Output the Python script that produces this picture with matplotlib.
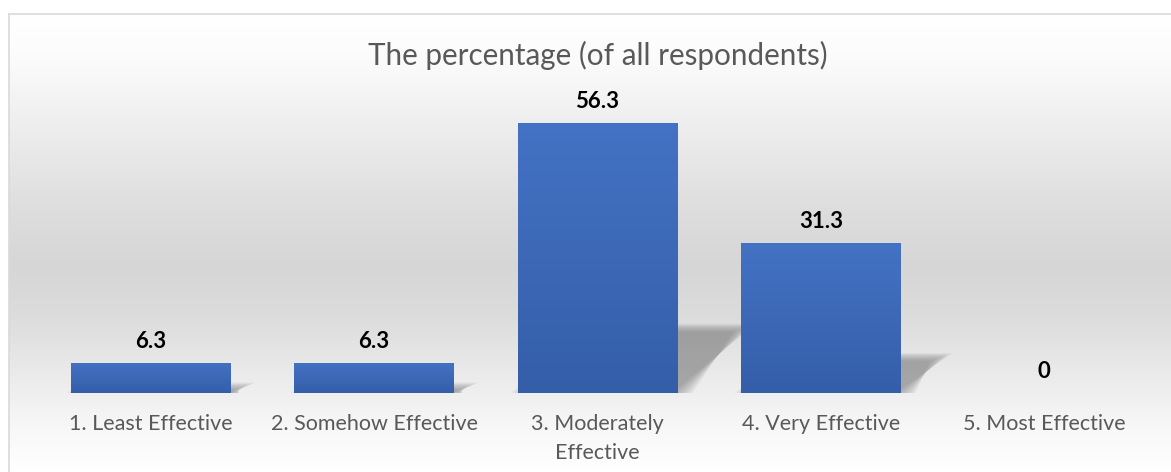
import textwrap
import numpy as np
import matplotlib
matplotlib.use("Agg")
import matplotlib.pyplot as plt
from matplotlib.colors import LinearSegmentedColormap
from matplotlib.patches import Polygon
from matplotlib.lines import Line2D

# data
categories = ["1. Least Effective", "2. Somehow Effective", "3. Moderately Effective",
              "4. Very Effective", "5. Most Effective"]
values = [6.3, 6.3, 56.3, 31.3, 0]
value_labels = ["6.3", "6.3", "56.3", "31.3", "0"]
title = "The percentage (of all respondents)"

plt.rcParams['font.family'] = ['Lato', 'DejaVu Sans']

W, H = 1171, 472
fig = plt.figure(figsize=(W / 100, H / 100), dpi=100)
fig.patch.set_facecolor("white")

# grey gradient background of the chart area
bg = fig.add_axes([9 / W, 0, 1 - 9 / W, 1 - 14 / H], zorder=0)
stops = [(0.0, "#ffffff"), (0.10, "#fbfbfb"), (0.23, "#efefef"), (0.42, "#dedede"),
         (0.55, "#d6d6d6"), (0.66, "#dcdcdc"), (0.80, "#ececec"), (0.90, "#f7f7f7"),
         (1.0, "#ffffff")]
bgmap = LinearSegmentedColormap.from_list("bg", stops)
bg.imshow(np.linspace(0, 1, 256).reshape(-1, 1), aspect="auto", cmap=bgmap,
          extent=[0, 1, 0, 1], origin="upper")
bg.set_axis_off()

# frame lines (top and left)
fig.add_artist(Line2D([9 / W, 1], [1 - 14 / H, 1 - 14 / H], color="#d9d9d9", lw=1.2))
fig.add_artist(Line2D([9 / W, 9 / W], [0, 1 - 14 / H], color="#d9d9d9", lw=1.2))

ax = fig.add_axes([39 / W, 79 / H, 1117 / W, 288 / H], zorder=1)
ax.set_facecolor("none")
x = np.arange(len(categories))
width = 0.716

# soft perspective shadows behind the bars (stacked layers fake a blur)
for xi, v in zip(x, values):
    if v <= 0:
        continue
    s = 0.245 * v
    dx = 0.04 + 0.0048 * v
    x0, x1 = xi - width / 2, xi + width / 2
    n = 16
    for k in range(n):
        g = 0.007 * (k - 6)
        pts = [(x0 + g, -0.5), (x1 + g, -0.5), (x1 + dx - g, s - g * 16),
               (x0 + dx, s - g * 16)]
        ax.add_patch(Polygon(pts, closed=True, facecolor="#777777", edgecolor="none",
                             alpha=0.05, zorder=1))

# bars with vertical blue gradient
bars = ax.bar(x, values, width=width, color="#3b67b6", zorder=2)
barmap = LinearSegmentedColormap.from_list("bar", ["#345ea8", "#4472c4"])
grad = np.linspace(0, 1, 256).reshape(-1, 1)
for b in bars:
    if b.get_height() <= 0:
        continue
    im = ax.imshow(grad, aspect="auto", cmap=barmap, origin="lower", zorder=3,
                   extent=[b.get_x(), b.get_x() + b.get_width(), 0, b.get_height()])
    im.set_clip_path(b)
ax.set_xlim(-0.5, len(categories) - 0.5)
ax.set_ylim(0, 60)

for xi, v, lab in zip(x, values, value_labels):
    ax.annotate(lab, (xi, v), xytext=(0, 8), textcoords="offset points",
                ha="center", va="bottom", fontsize=16, fontweight="bold", color="black")

ax.set_xticks(x)
ax.set_xticklabels([textwrap.fill(c, 20) for c in categories], fontsize=15.5,
                   color="#595959", linespacing=1.6)
ax.tick_params(axis="x", length=0, pad=15)
ax.set_yticks([])
for sp in ax.spines.values():
    sp.set_visible(False)

fig.text(598 / W, 1 - 55 / H, title, ha="center", va="center", fontsize=21.3,
         color="#595959")

fig.savefig("out.png", dpi=100)
